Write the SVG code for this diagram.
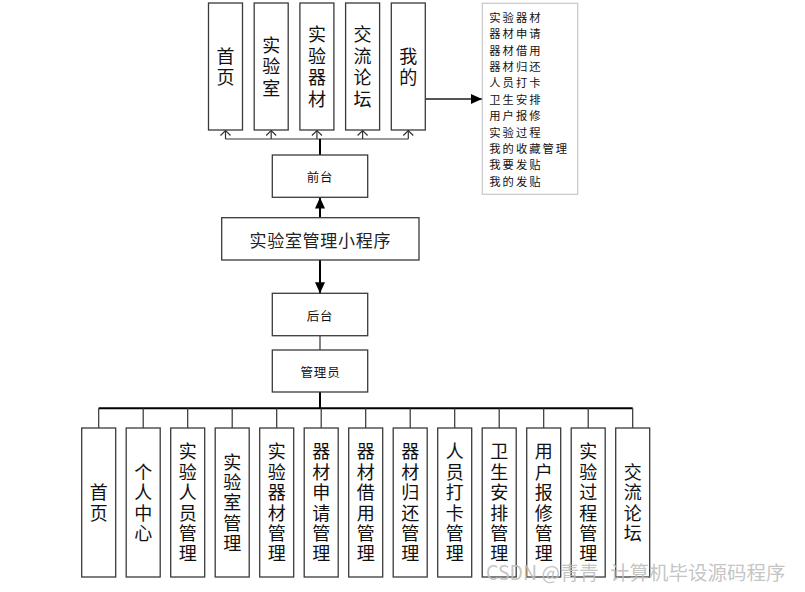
<svg xmlns="http://www.w3.org/2000/svg" width="805" height="592" viewBox="0 0 805 592">
<style>
.box{fill:#fff;stroke:#3a3a3a;stroke-width:1.3}
.vt{font-family:"Noto Sans CJK SC","Liberation Sans",sans-serif;font-size:18px;fill:#111;text-anchor:middle;writing-mode:vertical-rl;letter-spacing:2.4px}
.vtt{letter-spacing:3.5px}
.ht{font-family:"Noto Sans CJK SC","Liberation Sans",sans-serif;font-size:12.5px;fill:#111;text-anchor:middle;dominant-baseline:central;letter-spacing:0.8px}
.lt{font-family:"Noto Sans CJK SC","Liberation Sans",sans-serif;font-size:11.3px;fill:#111;letter-spacing:2px;dominant-baseline:central}
.thin{stroke:#333;stroke-width:1.2;fill:none}
.thick{stroke:#000;stroke-width:2;fill:none}
.wm{font-family:"Noto Sans CJK SC","Liberation Sans",sans-serif;font-size:19.5px;fill:#bdbdbd;fill-opacity:0.9}
</style>
<defs>
<marker id="fill" viewBox="0 0 11 10" refX="11" refY="5" markerWidth="11" markerHeight="10" markerUnits="userSpaceOnUse" orient="auto">
<path d="M0,0 L11,5 L0,10 Z" fill="#000"/>
</marker>
</defs>

<g id="connectors">
<!-- top fan-in -->
<path class="thin" d="M225.5,139 H408.3"/>
<path class="thin" d="M225.5,139 V130.5 M271.2,139 V130.5 M316.9,139 V130.5 M362.6,139 V130.5 M408.3,139 V130.5"/>
<path class="thin" d="M220.5,135.5 L225.5,130.5 L230.5,135.5 M266.2,135.5 L271.2,130.5 L276.2,135.5 M311.9,135.5 L316.9,130.5 L321.9,135.5 M357.6,135.5 L362.6,130.5 L367.6,135.5 M403.3,135.5 L408.3,130.5 L413.3,135.5"/>
<path class="thick" d="M320,139 V155"/>
<!-- 我的 -> list -->
<path d="M425,99 H482" stroke="#555" stroke-width="2" fill="none" marker-end="url(#fill)"/>
<!-- center to 前台 -->
<path class="thick" d="M320,217.7 V197.5" marker-end="url(#fill)"/>
<!-- center to 后台 -->
<path class="thick" d="M320,260 V293.3" marker-end="url(#fill)"/>
<path class="thin" d="M320,335.7 V350"/>
<!-- admin fan-out -->
<path class="thick" d="M320,392 V408.3"/>
<path class="thick" d="M98.7,408.3 H632.7"/>
<path class="thin" d="M98.7,408.3 V428 M143.2,408.3 V428 M187.7,408.3 V428 M232.2,408.3 V428 M276.7,408.3 V428 M321.2,408.3 V428 M365.7,408.3 V428 M410.2,408.3 V428 M454.7,408.3 V428 M499.2,408.3 V428 M543.7,408.3 V428 M588.2,408.3 V428 M632.7,408.3 V428"/>
</g>

<!-- top boxes -->
<g id="top-shouye"><rect class="box" x="208.5" y="3" width="34" height="127"/><text class="vt vtt" x="225.5" y="68.2">首页</text></g>
<g id="top-shiyanshi"><rect class="box" x="254.2" y="3" width="34" height="127"/><text class="vt vtt" x="271.2" y="68.2">实验室</text></g>
<g id="top-qicai"><rect class="box" x="299.9" y="3" width="34" height="127"/><text class="vt vtt" x="316.9" y="68.2">实验器材</text></g>
<g id="top-luntan"><rect class="box" x="345.6" y="3" width="34" height="127"/><text class="vt vtt" x="362.6" y="68.2">交流论坛</text></g>
<g id="top-wode"><rect class="box" x="391.3" y="3" width="34" height="127"/><text class="vt vtt" x="408.3" y="68.2">我的</text></g>

<!-- list box -->
<g id="mine-list">
<rect x="482.3" y="3.3" width="95.4" height="191" fill="#fff" stroke="#c8c8c8" stroke-width="1.2"/>
<text class="lt"><tspan x="489.3" y="16.5">实验器材</tspan><tspan x="489.3" y="33">器材申请</tspan><tspan x="489.3" y="49.5">器材借用</tspan><tspan x="489.3" y="66">器材归还</tspan><tspan x="489.3" y="82.3">人员打卡</tspan><tspan x="489.3" y="98.8">卫生安排</tspan><tspan x="489.3" y="115.2">用户报修</tspan><tspan x="489.3" y="131.5">实验过程</tspan><tspan x="489.3" y="147.8">我的收藏管理</tspan><tspan x="489.3" y="164.2">我要发贴</tspan><tspan x="489.3" y="181">我的发贴</tspan></text>
</g>

<!-- middle column -->
<g id="qiantai"><rect class="box" x="272.3" y="155" width="95.4" height="42.3"/><text class="ht" x="320" y="176.5">前台</text></g>
<g id="app"><rect class="box" x="221.7" y="217.7" width="197.3" height="42.3"/><text class="ht" x="320.3" y="239" style="font-size:17px;letter-spacing:0.7px;fill:#222">实验室管理小程序</text></g>
<g id="houtai"><rect class="box" x="272.3" y="293.3" width="95.4" height="42.4"/><text class="ht" x="320" y="315">后台</text></g>
<g id="admin"><rect class="box" x="272.3" y="350" width="95.4" height="42"/><text class="ht" x="320.5" y="371.5">管理员</text></g>

<!-- bottom boxes -->
<g id="b-shouye"><rect class="box" x="81.7" y="428" width="34" height="149"/><text class="vt" x="98.7" y="503.7">首页</text></g>
<g id="b-geren"><rect class="box" x="126.2" y="428" width="34" height="149"/><text class="vt" x="143.2" y="503.7">个人中心</text></g>
<g id="b-renyuan"><rect class="box" x="170.7" y="428" width="34" height="149"/><text class="vt" x="187.7" y="503.7">实验人员管理</text></g>
<g id="b-shiyanshi"><rect class="box" x="215.2" y="428" width="34" height="149"/><text class="vt" x="232.2" y="503.7">实验室管理</text></g>
<g id="b-qicai"><rect class="box" x="259.7" y="428" width="34" height="149"/><text class="vt" x="276.7" y="503.7">实验器材管理</text></g>
<g id="b-shenqing"><rect class="box" x="304.2" y="428" width="34" height="149"/><text class="vt" x="321.2" y="503.7">器材申请管理</text></g>
<g id="b-jieyong"><rect class="box" x="348.7" y="428" width="34" height="149"/><text class="vt" x="365.7" y="503.7">器材借用管理</text></g>
<g id="b-guihuan"><rect class="box" x="393.2" y="428" width="34" height="149"/><text class="vt" x="410.2" y="503.7">器材归还管理</text></g>
<g id="b-daka"><rect class="box" x="437.7" y="428" width="34" height="149"/><text class="vt" x="454.7" y="503.7">人员打卡管理</text></g>
<g id="b-weisheng"><rect class="box" x="482.2" y="428" width="34" height="149"/><text class="vt" x="499.2" y="503.7">卫生安排管理</text></g>
<g id="b-baoxiu"><rect class="box" x="526.7" y="428" width="34" height="149"/><text class="vt" x="543.7" y="503.7">用户报修管理</text></g>
<g id="b-guocheng"><rect class="box" x="571.2" y="428" width="34" height="149"/><text class="vt" x="588.2" y="503.7">实验过程管理</text></g>
<g id="b-luntan"><rect class="box" x="615.7" y="428" width="34" height="149"/><text class="vt" x="632.7" y="503.7">交流论坛</text></g>

<text class="wm" y="580"><tspan x="486">CSDN @青青</tspan><tspan x="610">计算机毕设源码程序</tspan></text>
</svg>
